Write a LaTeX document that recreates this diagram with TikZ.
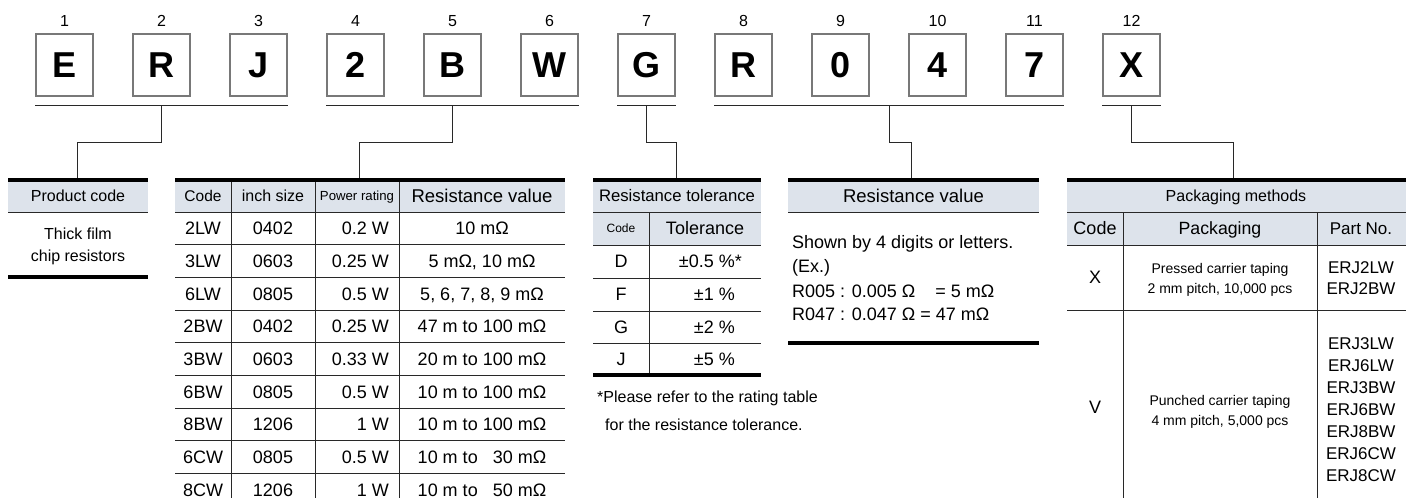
\documentclass[tikz,border=0pt]{standalone}
\usepackage{fontspec}
\setmainfont{Liberation Sans}
\usepackage{tikz}
\usetikzlibrary{calc}

\definecolor{headblue}{RGB}{221,227,235}
\definecolor{framegray}{RGB}{120,120,120}
\definecolor{linegray}{RGB}{40,40,40}

\begin{document}
\begin{tikzpicture}[x=1pt, y=-1pt,
    txt/.style={font=\fontsize{#1}{#1}\selectfont, inner sep=0pt, text depth=0pt,
      /utils/exec={\pgfmathsetlengthmacro\capht{0.716*#1}}, text height=\capht},
    letterbox/.style={draw=framegray, line width=1.1pt, minimum width=57pt,
      minimum height=62pt, inner sep=0pt, txt=36, font=\fontsize{36}{36}\selectfont\bfseries},
    posnum/.style={txt=16},
    groupbar/.style={draw=linegray, line width=1pt},
    leader/.style={draw=linegray, line width=1pt},
    rowline/.style={draw=linegray, line width=1pt},
    heavy/.style={draw=black, line width=3.3pt}]
  \useasboundingbox (0,0) rectangle (1406,498);

  \foreach \c [count=\i] in {E,R,J,2,B,W,G,R,0,4,7,X} {
    \node[letterbox] (d\i) at ({64.5+97*(\i-1)},65) {\c};
    \node[posnum] (n\i) at ({64.5+97*(\i-1)},21) {\i};
  }
  \foreach \a/\b [count=\k] in {1/3,4/6,7/7,8/11,12/12}
    \draw[groupbar] ([yshift=-9pt]d\a.south west) -- coordinate[midway] (g\k) ([yshift=-9pt]d\b.south east);

  \coordinate (t1) at (77,178);
  \coordinate (t2) at (359,178);
  \coordinate (t3) at (676,178);
  \coordinate (t4) at (911,178);
  \coordinate (t5) at (1233,178);
  \foreach \k in {1,...,5}
    \draw[leader] (g\k) -- ++(0,37) -| (t\k);

  % product code
  \fill[headblue] (8,181) rectangle (148,212);
  \draw[rowline] (8,212) -- (148,212);
  \draw[heavy] (8,180) -- (148,180) (8,277) -- (148,277);
  \node[txt=16] (pc) at (78,196) {Product code};
  \node[txt=16] (pc1) at (78,234) {Thick film};
  \node[txt=16] (pc2) at (78,256) {chip resistors};

  % size / power / resistance
  \fill[headblue] (175,181) rectangle (565,212);
  \foreach \i in {0,...,8}
    \draw[rowline] (175,{212+32.7*\i}) -- (565,{212+32.7*\i});
  \foreach \x in {231,315,399}
    \draw[rowline] (\x,179) -- (\x,498);
  \draw[heavy] (175,180) -- (565,180);
  \node[txt=15.5] (hc) at (203,196) {Code};
  \node[txt=16] (hs) at (273,196) {inch size};
  \node[txt=13.2] (hp) at (357,196) {Power rating};
  \node[txt=18.5] (hr) at (482,196) {Resistance value};
  \foreach \c/\s/\p/\r [count=\n] in {
      2LW/0402/0.2 W/10 mΩ,
      3LW/0603/0.25 W/{5 mΩ, 10 mΩ},
      6LW/0805/0.5 W/{5, 6, 7, 8, 9 mΩ},
      2BW/0402/0.25 W/47 m to 100 mΩ,
      3BW/0603/0.33 W/20 m to 100 mΩ,
      6BW/0805/0.5 W/10 m to 100 mΩ,
      8BW/1206/1 W/10 m to 100 mΩ,
      6CW/0805/0.5 W/10 m to \phantom{1}30 mΩ,
      8CW/1206/1 W/10 m to \phantom{1}50 mΩ
    } {
      \node[txt=18] (c\n) at (203,{195.65+32.7*\n}) {\c};
      \node[txt=18] (s\n) at (273,{195.65+32.7*\n}) {\s};
      \node[txt=18, anchor=east] (p\n) at (389,{195.65+32.7*\n}) {\p};
      \node[txt=18] (r\n) at (482,{195.65+32.7*\n}) {\r};
    }

  % tolerance
  \fill[headblue] (593,181) rectangle (761,245);
  \foreach \y in {212,245,278,311,343}
    \draw[rowline] (593,\y) -- (761,\y);
  \draw[rowline] (649,212) -- (649,375);
  \draw[heavy] (593,180) -- (761,180) (593,375) -- (761,375);
  \node[txt=16.7] (ht) at (677,196) {Resistance tolerance};
  \node[txt=12] (htc) at (621,228.5) {Code};
  \node[txt=18] (htv) at (705,228.5) {Tolerance};
  \foreach \c/\v/\y [count=\n] in {D/{±0.5 \%\rlap{*}}/261.5, F/±1 \%/294.5, G/±2 \%/327, J/±5 \%/359} {
    \node[txt=18] (tc\n) at (621,\y) {\c};
    \node[txt=18, anchor=east] (tv\n) at (735,\y) {\v};
  }
  \node[txt=16, anchor=west] (note1) at (597,397) {*Please refer to the rating table};
  \node[txt=16, anchor=west] (note2) at (605,425) {for the resistance tolerance.};

  % resistance value
  \fill[headblue] (788,181) rectangle (1039,212);
  \draw[rowline] (788,212) -- (1039,212);
  \draw[heavy] (788,180) -- (1039,180) (788,343) -- (1039,343);
  \node[txt=18.5] (hv) at (913.5,196) {Resistance value};
  \node[txt=18, anchor=west] (rv1) at (792,242) {Shown by 4 digits or letters.};
  \node[txt=18, anchor=west] (rv2) at (792,266.5) {(Ex.)};
  \node[txt=18, anchor=west] (rv3) at (792,291) {R005 : 0.005 Ω \phantom{4} = 5 mΩ};
  \node[txt=18, anchor=west] (rv4) at (792,314) {R047 : 0.047 Ω = 47 mΩ};

  % packaging
  \fill[headblue] (1067,181) rectangle (1406,245);
  \foreach \y in {212,245,310}
    \draw[rowline] (1067,\y) -- (1406,\y);
  \foreach \x in {1123,1317}
    \draw[rowline] (\x,212) -- (\x,498);
  \draw[heavy] (1067,180) -- (1406,180);
  \node[txt=16] (hk) at (1236,196) {Packaging methods};
  \node[txt=18] (hkc) at (1095,228.5) {Code};
  \node[txt=17.7] (hkp) at (1220,228.5) {Packaging};
  \node[txt=17] (hkn) at (1361,228.5) {Part No.};
  \node[txt=18] (kx) at (1095,277) {X};
  \node[txt=14] (kx1) at (1220,268) {Pressed carrier taping};
  \node[txt=14] (kx2) at (1220,288) {2 mm pitch, 10,000 pcs};
  \node[txt=17] (px1) at (1361,267) {ERJ2LW};
  \node[txt=17] (px2) at (1361,288) {ERJ2BW};
  \node[txt=18] (kv) at (1095,407) {V};
  \node[txt=14] (kv1) at (1220,400) {Punched carrier taping};
  \node[txt=14] (kv2) at (1220,420) {4 mm pitch, 5,000 pcs};
  \foreach \p [count=\n] in {ERJ3LW,ERJ6LW,ERJ3BW,ERJ6BW,ERJ8BW,ERJ6CW,ERJ8CW}
    \node[txt=17] (pv\n) at (1361,{321+22*\n}) {\p};
\end{tikzpicture}
\end{document}
